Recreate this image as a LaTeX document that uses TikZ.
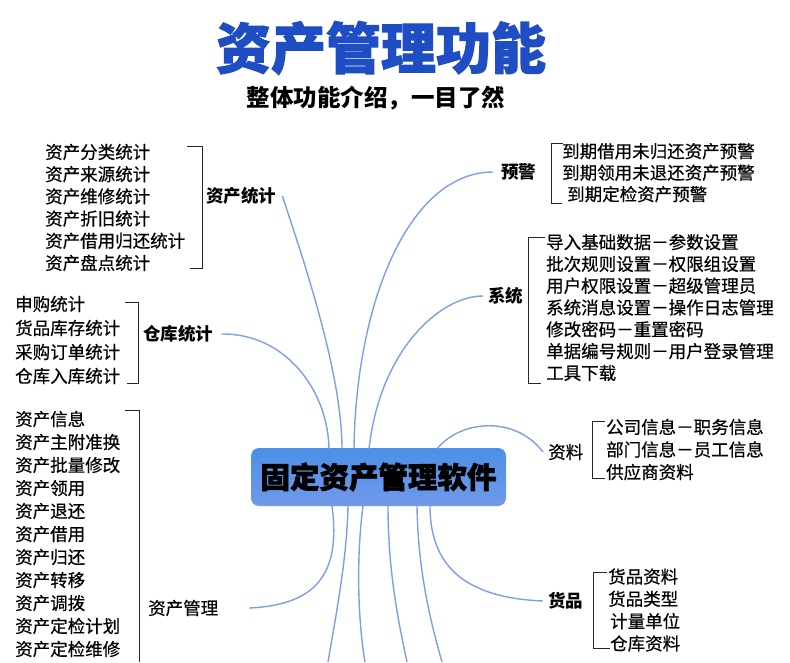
\documentclass[tikz,border=0pt]{standalone}
\usepackage{fontspec}
\setmainfont{Noto Sans CJK SC}[UprightFeatures={FakeBold=0.5}]
\newfontfamily\heavyfont{Noto Sans CJK SC}[BoldFeatures={FakeBold=2}]
\usepackage{xcolor}

\definecolor{titleblue}{RGB}{31,78,196}
\definecolor{branchblue}{RGB}{125,158,232}
\definecolor{hubtop}{RGB}{74,144,230}
\definecolor{hubbottom}{RGB}{114,153,234}

\begin{document}
\begin{tikzpicture}[
    x=1pt, y=-1pt,
    item/.style={
        anchor=west,
        inner sep=0pt,
        align=left,
        font=\fontsize{17.5}{#1}\selectfont
    },
    item/.default=22.4,
    topic/.style={anchor=west, inner sep=0pt, font=\fontsize{17.5}{21}\selectfont\bfseries},
    thintopic/.style={topic, font=\fontsize{17.5}{21}\selectfont\mdseries},
    branch/.style={branchblue, line width=1.4pt},
    bracket/.style={black!85, line width=0.9pt}
]

\useasboundingbox (0,0) rectangle (790,662);

% Title
\node[font=\fontsize{55}{60}\selectfont\heavyfont\bfseries, text=titleblue] (title) at (381,48) {资产管理功能};
\node[font=\fontsize{23.5}{26}\selectfont\bfseries] (subtitle) at (376,98) {整体功能介绍，一目了然};

% Central node
\node[rounded corners=8pt, top color=hubtop, bottom color=hubbottom,
      minimum width=255pt, minimum height=58pt, inner sep=0pt,
      font=\fontsize{29.5}{32}\selectfont\heavyfont\bfseries] (hub) at (378.5,477) {固定资产管理软件};

% Attachment points on the central node
\coordinate (t1) at (329,449);
\coordinate (t2) at (342,449);
\coordinate (t3) at (354,449);
\coordinate (t4) at (369,449);
\coordinate (t5) at (437,449);
\coordinate (b1) at (332,506);
\coordinate (b2) at (348,506);
\coordinate (b3) at (363,506);
\coordinate (b4) at (388,506);
\coordinate (b5) at (417,506);
\coordinate (b6) at (430,506);

% Free ends below the picture edge
\coordinate (d1) at (328,662);
\coordinate (d2) at (365,662);
\coordinate (d3) at (407,662);
\coordinate (d4) at (442,662);

% Left side: statistics
\node[topic] (zcstat) at (206,196) {资产统计};
\node[item=22.2] (zcstatlist) at (45,207.5) {资产分类统计\\资产来源统计\\资产维修统计\\资产折旧统计\\资产借用归还统计\\资产盘点统计};
\draw[bracket] (187,146) -- (202,146) -- (202,268) -- (190,268);

\node[topic] (ckstat) at (143,334) {仓库统计};
\node[item=24] (ckstatlist) at (15,340) {申购统计\\货品库存统计\\采购订单统计\\仓库入库统计};
\draw[bracket] (125,302) -- (138,302) -- (138,383) -- (127,383);

% Left side: asset management
\node[thintopic] (zcmgmt) at (148,608) {资产管理};
\node[item=23] (zcmgmtlist) at (15,534) {资产信息\\资产主附准换\\资产批量修改\\资产领用\\资产退还\\资产借用\\资产归还\\资产转移\\资产调拨\\资产定检计划\\资产定检维修};
\draw[bracket] (125,410) -- (139,410) -- (139,662);

% Right side: warnings
\node[topic] (yujing) at (501,172) {预警};
\node[item=21.5] (yujinglist) at (562,172.7) {到期借用未归还资产预警\\到期领用未退还资产预警\\\hspace*{5pt}到期定检资产预警};
\draw[bracket] (563,143) -- (551,143) -- (551,203) -- (562,203);

% Right side: system
\node[topic] (xitong) at (488,296) {系统};
\node[item=21.8] (xitonglist) at (546,307.5) {导入基础数据－参数设置\\批次规则设置－权限组设置\\用户权限设置－超级管理员\\系统消息设置－操作日志管理\\修改密码－重置密码\\单据编号规则－用户登录管理\\工具下载};
\draw[bracket] (545,237) -- (528,237) -- (528,383) -- (541,383);

% Right side: basic data
\node[thintopic] (ziliao) at (548,452) {资料};
\node[item=22.5] (ziliaolist) at (606,449.5) {公司信息－职务信息\\部门信息－员工信息\\供应商资料};
\draw[bracket] (605,421) -- (592,421) -- (592,478) -- (605,478);

% Right side: goods
\node[topic] (huopin) at (548,601) {货品};
\node[item=22.3] (huopinlist) at (608,610) {货品资料\\货品类型\\\hspace*{2pt}计量单位\\\hspace*{2pt}仓库资料};
\draw[bracket] (607,572) -- (593,572) -- (593,648) -- (610,648);

% Branches
\draw[branch] (t1) .. controls (328,390) and (285,333) .. ([xshift=8pt]ckstat.east);
\draw[branch] (t2) .. controls (342,370) and (300,250) .. ([xshift=6pt]zcstat.east);
\draw[branch] (t3) .. controls (356,300) and (410,172) .. ([xshift=-8pt]yujing.west);
\draw[branch] (t4) .. controls (380,350) and (440,296) .. ([xshift=-5pt]xitong.west);
\draw[branch] (t5) .. controls (460,420) and (515,415) .. ([xshift=-5pt]ziliao.west);
\draw[branch] (b1) .. controls (342,580) and (310,605) .. ([xshift=31pt]zcmgmt.east);
\draw[branch] (b6) .. controls (430,570) and (470,598) .. ([xshift=-5pt]huopin.west);

% Branches leaving the picture
\draw[branch] (b2) .. controls (347,560) and (335,620) .. (d1);
\draw[branch] (b3) .. controls (356,560) and (358,620) .. (d2);
\draw[branch] (b4) .. controls (388,570) and (398,620) .. (d3);
\draw[branch] (b5) .. controls (418,570) and (430,620) .. (d4);

\end{tikzpicture}
\end{document}
